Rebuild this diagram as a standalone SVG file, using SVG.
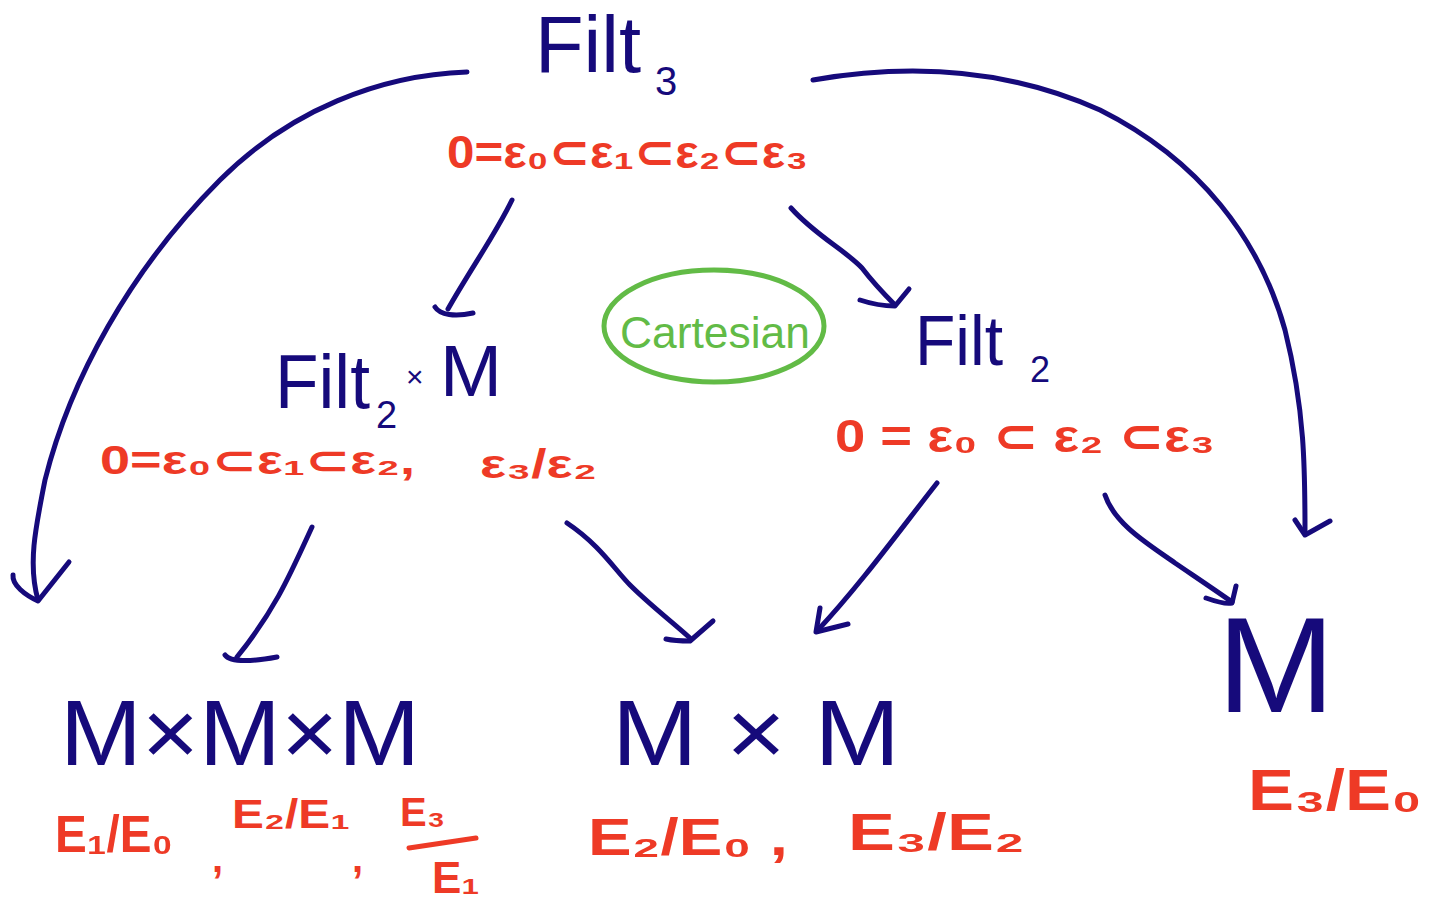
<svg xmlns="http://www.w3.org/2000/svg" width="1429" height="900" viewBox="0 0 1429 900">
<style>
.b{fill:#160a7b;font-family:"Liberation Sans","DejaVu Sans",sans-serif}
.r{fill:#ee3a26;font-family:"Liberation Sans","DejaVu Sans",sans-serif;font-weight:bold}
.g{fill:#62bb46;font-family:"Liberation Sans","DejaVu Sans",sans-serif}
.c{fill:none;stroke:#160a7b;stroke-width:5;stroke-linecap:round;stroke-linejoin:round}
</style>
<rect width="1429" height="900" fill="#fff"/>
<g id="connectors">
<path class="c" d="M467,72 C380,75 290,110 220,180 C130,270 70,380 45,480 C35,530 28,565 38,600"/>
<path class="c" d="M13,575 C12,585 25,595 38,601 L69,562"/>
<path class="c" d="M813,80 C900,65 1000,65 1100,110 C1200,160 1260,240 1285,330 C1305,410 1305,470 1305,532"/>
<path class="c" d="M1295,520 L1305,535 L1330,521"/>
<path class="c" d="M512,200 C495,235 470,270 448,309"/>
<path class="c" d="M435,307 C440,315 455,317 473,313"/>
<path class="c" d="M791,208 C815,235 845,250 862,268 C875,285 885,295 895,305"/>
<path class="c" d="M860,300 C875,305 888,306 895,306 L909,289"/>
<path class="c" d="M312,527 C290,575 275,610 237,657"/>
<path class="c" d="M225,655 C230,662 250,662 277,657"/>
<path class="c" d="M567,523 C600,545 615,570 630,585 C650,605 670,620 690,638"/>
<path class="c" d="M666,639 C675,641 683,641 690,641 L713,621"/>
<path class="c" d="M937,483 C900,530 860,585 818,630"/>
<path class="c" d="M820,608 L816,632 L848,624"/>
<path class="c" d="M1105,495 C1115,525 1150,545 1175,563 C1200,580 1215,590 1232,602"/>
<path class="c" d="M1206,598 C1220,603 1228,604 1232,603 L1236,586"/>
</g>
<g id="filt3">
<text class="b" x="535" y="72" font-size="80" textLength="106" lengthAdjust="spacingAndGlyphs">Filt</text>
<text class="b" x="655" y="95" font-size="40">3</text>
<text class="r" x="447" y="168" font-size="46" textLength="361" lengthAdjust="spacingAndGlyphs">0=ε₀⊂ε₁⊂ε₂⊂ε₃</text>
</g>
<g id="filt2xM">
<text class="b" x="275" y="408" font-size="76" textLength="95" lengthAdjust="spacingAndGlyphs">Filt</text>
<text class="b" x="376" y="428" font-size="38">2</text>
<text class="b" x="406" y="387" font-size="30">×</text>
<text class="b" x="440" y="396" font-size="72" textLength="62" lengthAdjust="spacingAndGlyphs">M</text>
<text class="r" x="100" y="474" font-size="40" textLength="315" lengthAdjust="spacingAndGlyphs">0=ε₀⊂ε₁⊂ε₂,</text>
<text class="r" x="480" y="478" font-size="40" textLength="117" lengthAdjust="spacingAndGlyphs">ε₃/ε₂</text>
</g>
<g id="filt2">
<text class="b" x="915" y="365" font-size="70" textLength="88" lengthAdjust="spacingAndGlyphs">Filt</text>
<text class="b" x="1030" y="382" font-size="36">2</text>
<text class="r" x="835" y="452" font-size="46" textLength="380" lengthAdjust="spacingAndGlyphs">0 = ε₀ ⊂ ε₂ ⊂ε₃</text>
</g>
<g id="cartesian">
<ellipse cx="714" cy="326" rx="110" ry="56" fill="none" stroke="#62bb46" stroke-width="5"/>
<text class="g" x="620" y="348" font-size="44" textLength="190" lengthAdjust="spacingAndGlyphs">Cartesian</text>
</g>
<g id="MxMxM">
<text class="b" x="60" y="765" font-size="92" textLength="360" lengthAdjust="spacingAndGlyphs">M×M×M</text>
<text class="r" x="55" y="852" font-size="52" textLength="118" lengthAdjust="spacingAndGlyphs">E₁/E₀</text>
<text class="r" x="212" y="872" font-size="40">,</text>
<text class="r" x="232" y="828" font-size="40" textLength="118" lengthAdjust="spacingAndGlyphs">E₂/E₁</text>
<text class="r" x="352" y="872" font-size="40">,</text>
<text class="r" x="400" y="826" font-size="40">E₃</text>
<line x1="409" y1="848" x2="476" y2="838" stroke="#ee3a26" stroke-width="5" stroke-linecap="round"/>
<text class="r" x="432" y="893" font-size="44">E₁</text>
</g>
<g id="MxM">
<text class="b" x="612" y="765" font-size="92" textLength="288" lengthAdjust="spacingAndGlyphs">M × M</text>
<text class="r" x="588" y="855" font-size="52" textLength="200" lengthAdjust="spacingAndGlyphs">E₂/E₀ ,</text>
<text class="r" x="848" y="850" font-size="52" textLength="177" lengthAdjust="spacingAndGlyphs">E₃/E₂</text>
</g>
<g id="M">
<text class="b" x="1217" y="712" font-size="135" textLength="118" lengthAdjust="spacingAndGlyphs">M</text>
<text class="r" x="1248" y="810" font-size="58" textLength="174" lengthAdjust="spacingAndGlyphs">E₃/E₀</text>
</g>
</svg>
